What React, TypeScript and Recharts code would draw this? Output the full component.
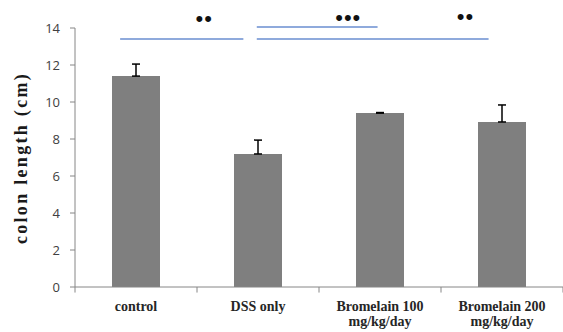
import React from 'react';
import {
  BarChart,
  Bar,
  XAxis,
  YAxis,
  ErrorBar,
  ReferenceLine,
  ReferenceDot,
} from 'recharts';

// groups and measured colon length (mean, +SD)
const categories = ['control', 'DSS only', 'Bromelain  100\nmg/kg/day', 'Bromelain 200\nmg/kg/day'];
const lengths = [11.4, 7.19, 9.4, 8.92];
const errors = [0.65, 0.75, 0.03, 0.92];
const yTicks = [0, 2, 4, 6, 8, 10, 12, 14];
const boundaryTicks = [0, 1, 2, 3, 4];

// significance brackets, x in category units along the axis
const bracketStart = [0.37, 1.49, 1.49];
const bracketEnd = [1.38, 3.39, 2.48];
const bracketLevel = [13.4, 13.4, 14.05];
const starX = [1.06, 2.24, 3.2];
const starY = [14.55, 14.6, 14.65];
const starText = ['••', '•••', '••'];

const data = categories.map((name, i) => ({
  name,
  pos: i + 0.5,
  length: lengths[i],
  err: [0, errors[i]],
}));

const AXIS = '#868686';

function CatTick({ x, y, payload }: any) {
  const lines = String(payload.value).split('\n');
  return (
    <text
      x={x}
      y={y}
      textAnchor="middle"
      fill="#262626"
      fontFamily="'Liberation Serif', serif"
      fontWeight="bold"
      fontSize={14}
    >
      {lines.map((l, i) => (
        <tspan key={i} x={x} dy={i === 0 ? 12 : 15}>
          {l}
        </tspan>
      ))}
    </text>
  );
}

function YTitle() {
  return (
    <text
      x={27}
      y={158}
      transform="rotate(-90, 27, 158)"
      textAnchor="middle"
      fill="#1a1a1a"
      fontFamily="'Liberation Serif', serif"
      fontWeight="bold"
      fontSize={18}
      letterSpacing={2.3}
    >
      colon length (cm)
    </text>
  );
}

export default function App() {
  return (
    <div style={{ position: 'absolute', left: 0, top: 0, background: '#fff' }}>
      <BarChart
        width={563}
        height={332}
        data={data}
        margin={{ top: 28, right: 0, bottom: 0, left: 0 }}
      >
        <XAxis
          xAxisId="num"
          type="number"
          dataKey="pos"
          domain={[0, 4]}
          allowDataOverflow
          hide
        />
        <XAxis
          xAxisId="cat"
          dataKey="name"
          height={45}
          stroke={AXIS}
          tickLine={false}
          tickSize={0}
          tickMargin={12}
          interval={0}
          tick={<CatTick />}
        />
        <YAxis
          width={75}
          domain={[0, 14]}
          ticks={yTicks}
          stroke={AXIS}
          tickSize={5}
          tickMargin={10}
          tick={{ fill: '#404040', fontSize: 13, fontFamily: "'Open Sans', sans-serif" }}
          label={<YTitle />}
        />
        {boundaryTicks.map((b) => (
          <ReferenceLine
            key={'t' + b}
            xAxisId="num"
            ifOverflow="visible"
            stroke={AXIS}
            strokeWidth={1}
            segment={[
              { x: b, y: 0 },
              { x: b, y: -0.3 },
            ]}
          />
        ))}
        <Bar
          xAxisId="cat"
          dataKey="length"
          fill="#7f7f7f"
          barSize={48}
          isAnimationActive={false}
        >
          <ErrorBar
            dataKey="err"
            direction="y"
            width={4}
            stroke="#000"
            strokeWidth={1.5}
            isAnimationActive={false}
          />
        </Bar>
        {bracketStart.map((x1, i) => (
          <ReferenceLine
            key={'b' + i}
            xAxisId="num"
            ifOverflow="visible"
            stroke="#8faadc"
            strokeWidth={2}
            segment={[
              { x: x1, y: bracketLevel[i] },
              { x: bracketEnd[i], y: bracketLevel[i] },
            ]}
          />
        ))}
        {starX.map((x, i) => (
          <ReferenceDot
            key={'s' + i}
            xAxisId="num"
            x={x}
            y={starY[i]}
            r={0}
            ifOverflow="visible"
            label={{
              value: starText[i],
              position: 'center',
              fill: '#111',
              fontSize: 22,
              letterSpacing: 1,
              fontFamily: "'Liberation Sans', sans-serif",
            }}
          />
        ))}
      </BarChart>
    </div>
  );
}
